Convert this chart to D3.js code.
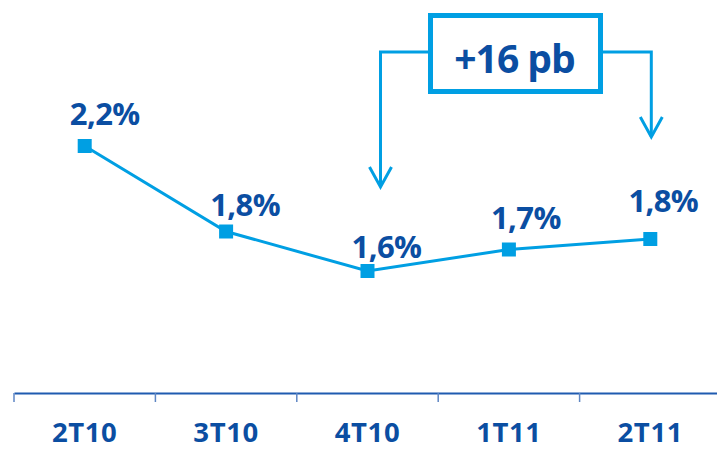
<!DOCTYPE html>
<html>
<head>
<meta charset="utf-8">
<script src="https://cdn.jsdelivr.net/npm/d3@7"></script>
<style>
  html, body { margin: 0; padding: 0; background: #ffffff; }
  svg { display: block; }
  text { font-family: "Open Sans", "Noto Sans", sans-serif; font-weight: 700; }
</style>
</head>
<body>
<svg id="chart" width="717" height="450"></svg>
<script>
// ---- data ----
const categories = ["2T10", "3T10", "4T10", "1T11", "2T11"];
const values = [2.225, 1.7975, 1.60, 1.7075, 1.76];
const valueLabels = ["2,2%", "1,8%", "1,6%", "1,7%", "1,8%"];
const annotationText = "+16 pb";
const annotationFrom = "4T10";
const annotationTo = "2T11";

// ---- layout (styles / offsets) ----
const labelDx = [20, 19, 19, 17, 13];
const labelDy = [-21, -16, -13, -21, -27];

const W = 717, H = 450;
const axisY = 393;
const lineColor = "#009FE3";
const textColor = "#0B4EA2";
const axisColor = "#1F5BB0";

const svg = d3.select("#chart");

const x = d3.scaleBand().domain(categories).range([14, 721]).padding(0);
const y = d3.scaleLinear().domain([1.0, 2.25]).range([391, 141]);
const cx = c => x(c) + x.bandwidth() / 2;

// x axis
const axis = d3.axisBottom(x).tickSize(0).tickFormat("");
const gAxis = svg.append("g").attr("transform", `translate(0,${axisY})`).call(axis);
gAxis.select(".domain").attr("stroke", axisColor).attr("stroke-width", 2);
// ticks at band boundaries
const bounds = categories.map(c => x(c));
gAxis.selectAll("line.bound").data(bounds).join("line")
  .attr("class", "bound")
  .attr("x1", d => d).attr("x2", d => d)
  .attr("y1", 0).attr("y2", 9)
  .attr("stroke", "#5E86C4").attr("stroke-width", 1.5);

// category labels
svg.append("g").selectAll("text").data(categories).join("text")
  .attr("x", d => cx(d))
  .attr("y", 442)
  .attr("text-anchor", "middle")
  .attr("fill", textColor)
  .attr("font-size", 27.5)
  .attr("letter-spacing", "0.6")
  .text(d => d);

// line
const line = d3.line().x((d, i) => cx(categories[i])).y(d => y(d));
svg.append("path").datum(values)
  .attr("d", line)
  .attr("fill", "none")
  .attr("stroke", lineColor)
  .attr("stroke-width", 3);

// markers
const ms = 14;
svg.append("g").selectAll("rect").data(values).join("rect")
  .attr("x", (d, i) => cx(categories[i]) - ms / 2)
  .attr("y", d => y(d) - ms / 2)
  .attr("width", ms).attr("height", ms)
  .attr("fill", lineColor);

// value labels
svg.append("g").selectAll("text").data(values).join("text")
  .attr("x", (d, i) => cx(categories[i]) + labelDx[i])
  .attr("y", (d, i) => y(d) + labelDy[i])
  .attr("text-anchor", "middle")
  .attr("fill", textColor)
  .attr("font-size", 31)
  .attr("letter-spacing", "-0.6")
  .text((d, i) => valueLabels[i]);

// annotation
const boxX = 430.5, boxY = 15.5, boxW = 170, boxH = 76;
const connY = 52;
const leftX = cx(annotationFrom) + 13;
const rightX = cx(annotationTo) + 1;
const leftTip = 187, rightTip = 137;
const ann = svg.append("g").attr("fill", "none").attr("stroke", lineColor);
ann.append("rect")
  .attr("x", boxX).attr("y", boxY).attr("width", boxW).attr("height", boxH)
  .attr("stroke-width", 5);
ann.append("path")
  .attr("d", `M${boxX},${connY}H${leftX}V${leftTip}`)
  .attr("stroke-width", 3);
ann.append("path")
  .attr("d", `M${leftX - 11},${leftTip - 20}L${leftX},${leftTip}L${leftX + 11},${leftTip - 20}`)
  .attr("stroke-width", 3);
ann.append("path")
  .attr("d", `M${boxX + boxW},${connY}H${rightX}V${rightTip}`)
  .attr("stroke-width", 3);
ann.append("path")
  .attr("d", `M${rightX - 11},${rightTip - 20}L${rightX},${rightTip}L${rightX + 11},${rightTip - 20}`)
  .attr("stroke-width", 3);
svg.append("text")
  .attr("x", boxX + boxW / 2 - 1)
  .attr("y", 73)
  .attr("text-anchor", "middle")
  .attr("fill", textColor)
  .attr("font-size", 39)
  .attr("letter-spacing", "-1")
  .text(annotationText);
</script>
</body>
</html>
